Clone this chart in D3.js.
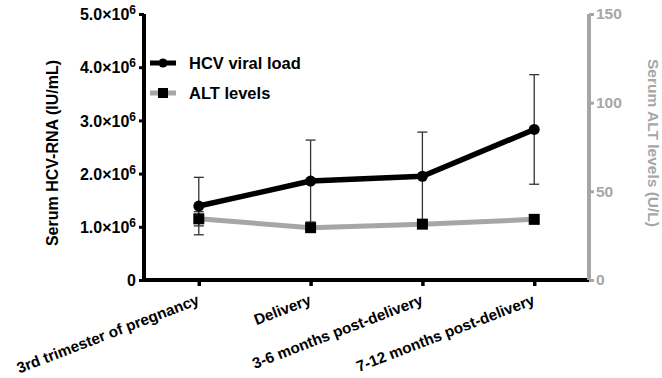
<!DOCTYPE html>
<html><head><meta charset="utf-8">
<script src="https://cdn.jsdelivr.net/npm/d3@7"></script>
<style>body{margin:0;background:#fff}svg{display:block;font-family:"Liberation Sans",Arial,sans-serif;font-weight:bold}</style>
</head><body><svg id="c" width="662" height="378"></svg>
<script>
const categories = ["3rd trimester of pregnancy","Delivery","3-6 months post-delivery","7-12 months post-delivery"];
const hcvMean = [1.39e6, 1.86e6, 1.95e6, 2.83e6];
const hcvErr  = [0.54e6, 0.77e6, 0.83e6, 1.03e6];
const altMean = [34.5, 29.5, 31.5, 34.2];
const altErr  = [4, 1.5, 1.5, 1.5];
const leftTicks = [0, 1e6, 2e6, 3e6, 4e6, 5e6];
const rightTicks = [0, 50, 100, 150];
const seriesNames = ["HCV viral load", "ALT levels"];

const svg = d3.select("#c");
const L = 144, R = 589, T = 14, B = 280;
const x = d3.scalePoint().domain(categories).range([L, R]).padding(0.49);
const yL = d3.scaleLinear().domain([0, 5e6]).range([B, T]);
const yR = d3.scaleLinear().domain([0, 150]).range([B, T]);
const black = "#000", gray = "#a6a6a6";

// bottom axis
const gx = svg.append("g").attr("transform", `translate(0,${B})`)
  .call(d3.axisBottom(x).tickSize(6).tickFormat(""));
gx.select(".domain").attr("d", `M${L},0H${R}`).attr("stroke", black).attr("stroke-width", 4);
gx.selectAll(".tick line").attr("stroke", black).attr("stroke-width", 3.5);
gx.selectAll(".tick").append("text")
  .text(d => d)
  .attr("fill", black).attr("font-size", 15.3).attr("text-anchor", "end")
  .attr("transform", "translate(1,24) rotate(-21)");

// left axis
const gl = svg.append("g").attr("transform", `translate(${L},0)`)
  .call(d3.axisLeft(yL).tickValues(leftTicks).tickSize(5).tickPadding(3).tickFormat(d => d === 0 ? "0" : (d/1e6).toFixed(1) + "×10"));
gl.select(".domain").attr("d", `M0,${T}V${B}`).attr("stroke", black).attr("stroke-width", 4);
gl.selectAll(".tick line").attr("stroke", black).attr("stroke-width", 3);
gl.selectAll(".tick text").attr("font-size", 16).attr("fill", black).attr("font-family", null)
  .each(function(d){ if (d !== 0) { d3.select(this).append("tspan").attr("dy", -6).attr("font-size", 12).text("6"); } })
  .attr("dy", "0.35em");

// right axis
const gr = svg.append("g").attr("transform", `translate(${R},0)`)
  .call(d3.axisRight(yR).tickValues(rightTicks).tickSize(5).tickPadding(2));
gr.select(".domain").attr("d", `M0,${T}V${B}`).attr("stroke", gray).attr("stroke-width", 4);
gr.selectAll(".tick line").attr("stroke", gray).attr("stroke-width", 3);
gr.selectAll(".tick text").attr("font-size", 15.5).attr("fill", gray).attr("font-family", null);

// axis titles
svg.append("text").attr("transform", `translate(58,${(T+B)/2+6}) rotate(-90)`)
  .attr("text-anchor", "middle").attr("font-size", 16).attr("fill", black).text("Serum HCV-RNA (IU/mL)");
svg.append("text").attr("transform", `translate(648,${(T+B)/2-4}) rotate(90)`)
  .attr("text-anchor", "middle").attr("font-size", 15.5).attr("fill", gray).text("Serum ALT levels (U/L)");

// error bars
function errBars(mean, err, y, cls) {
  const g = svg.append("g").attr("class", cls).attr("stroke", "#333").attr("stroke-width", 1.3);
  categories.forEach((c, i) => {
    const cx = x(c), y1 = y(mean[i] + err[i]), y2 = y(mean[i] - err[i]);
    g.append("line").attr("x1", cx).attr("x2", cx).attr("y1", y1).attr("y2", y2);
    g.append("line").attr("x1", cx - 5).attr("x2", cx + 5).attr("y1", y1).attr("y2", y1);
    g.append("line").attr("x1", cx - 5).attr("x2", cx + 5).attr("y1", y2).attr("y2", y2);
  });
}
errBars(hcvMean, hcvErr, yL, "hcvErr");
errBars(altMean, altErr, yR, "altErr");

// ALT line
const lineAlt = d3.line().x((d, i) => x(categories[i])).y(d => yR(d));
svg.append("path").attr("d", lineAlt(altMean)).attr("fill", "none").attr("stroke", gray).attr("stroke-width", 5);
svg.selectAll(".sq").data(altMean).join("rect")
  .attr("x", (d, i) => x(categories[i]) - 5.5).attr("y", d => yR(d) - 5.5)
  .attr("width", 11).attr("height", 11).attr("fill", black);

// HCV line
const lineH = d3.line().x((d, i) => x(categories[i])).y(d => yL(d));
svg.append("path").attr("d", lineH(hcvMean)).attr("fill", "none").attr("stroke", black).attr("stroke-width", 5.5).attr("stroke-linejoin", "round");
svg.selectAll(".ci").data(hcvMean).join("circle")
  .attr("cx", (d, i) => x(categories[i])).attr("cy", d => yL(d)).attr("r", 5.5).attr("fill", black);

// legend
const lg = svg.append("g");
[[black, "circle"], [gray, "rect"]].forEach(([col, shape], i) => {
  const yy = 63 + i * 30;
  lg.append("line").attr("x1", 150).attr("x2", 176).attr("y1", yy).attr("y2", yy).attr("stroke", col).attr("stroke-width", 5);
  if (shape === "circle") lg.append("circle").attr("cx", 163).attr("cy", yy).attr("r", 4.5).attr("fill", black);
  else lg.append("rect").attr("x", 158).attr("y", yy - 5).attr("width", 10).attr("height", 10).attr("fill", black);
  lg.append("text").attr("x", 189).attr("y", yy + 5.5).attr("font-size", 16.5).attr("fill", black).text(seriesNames[i]);
});
</script></body></html>
